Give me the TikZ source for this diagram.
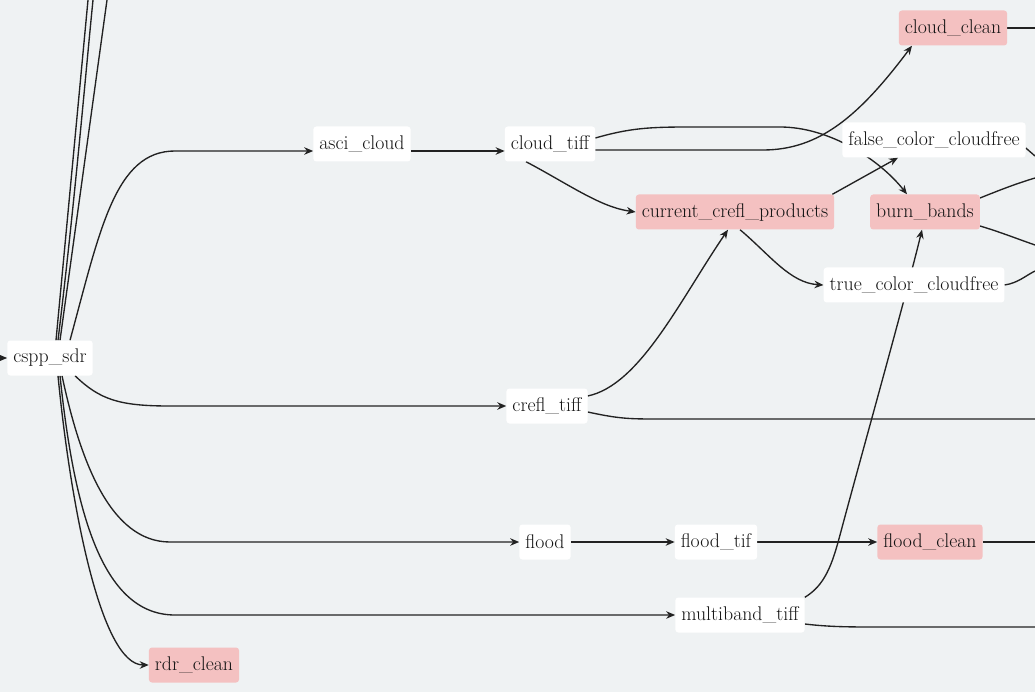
\documentclass[tikz,border=0pt]{standalone}
\usepackage{fontspec}
\usetikzlibrary{arrows.meta}
\pgfdeclarelayer{back}
\pgfdeclarelayer{edges}
\pgfsetlayers{back,edges,main}
\definecolor{bgc}{HTML}{EFF2F3}
\definecolor{pinkc}{HTML}{F4C1C1}
\definecolor{edgec}{HTML}{222222}
\definecolor{txtc}{HTML}{141414}
\tikzset{
 nd/.style={rounded corners=3pt, fill=white, text=txtc, minimum height=35pt, inner xsep=6pt, font=\fontsize{19.8}{22}\selectfont},
 pk/.style={nd, fill=pinkc},
 ed/.style={draw=edgec, line width=1.35pt, -{Stealth[length=9pt,width=7.5pt]}},
 ln/.style={draw=edgec, line width=1.35pt},
}
\begin{document}
\begin{tikzpicture}[x=1pt,y=-1pt]
\begin{pgfonlayer}{back}
\fill[bgc] (0,0) rectangle (1035,692);
\end{pgfonlayer}
\useasboundingbox (0,0) rectangle (1035,692);
% nodes
\node[nd] (cspp) at (50,358) {cspp\_sdr};
\node[nd] (asci) at (362,144) {asci\_cloud};
\node[nd] (ctiff) at (550,144) {cloud\_tiff};
\node[pk] (cclean) at (953,28) {cloud\_clean};
\node[nd] (fcc) at (934,140) {false\_color\_cloudfree};
\node[pk] (ccp) at (735,212) {current\_crefl\_products};
\node[pk] (burn) at (925,212) {burn\_bands};
\node[nd] (tcc) at (914,285) {true\_color\_cloudfree};
\node[nd] (crefl) at (547,406) {crefl\_tiff};
\node[nd] (flood) at (545,542) {flood};
\node[nd] (ftif) at (716,542) {flood\_tif};
\node[pk] (fclean) at (930,542) {flood\_clean};
\node[nd] (multi) at (740,615) {multiband\_tiff};
\node[pk] (rdr) at (194,665) {rdr\_clean};
% free ends
\coordinate (in) at (0,358);
\coordinate (t1) at (88,0);
\coordinate (t2) at (93,0);
\coordinate (t3) at (107,0);
\coordinate (r1) at (1035,28);
\coordinate (r2) at (1035,156);
\coordinate (r3) at (1035,178);
\coordinate (r4) at (1035,245);
\coordinate (r5) at (1035,271);
\coordinate (r6) at (1035,419);
\coordinate (r7) at (1035,542);
\coordinate (r8) at (1035,627);
\begin{pgfonlayer}{edges}
\draw[ed] (in) -- (cspp.west);
\draw[ln] ([xshift=6pt]cspp.north) -- (t1);
\draw[ln] ([xshift=8pt]cspp.north) .. controls (75,200) and (85,80) .. (t2);
\draw[ln] ([xshift=10pt]cspp.north) -- (t3);
\draw[ed] ([xshift=20pt]cspp.north) .. controls (100,230) and (115,151) .. (175,151) -- ([yshift=-7pt]asci.west);
\draw[ed] ([yshift=-7pt]asci.east) -- ([yshift=-7pt]ctiff.west);
\draw[ed] ([yshift=-6pt]ctiff.east) -- (763,150) .. controls (820,150) and (860,115) .. ([xshift=-41pt]cclean.south);
\draw[ed] ([yshift=6pt]ctiff.east) .. controls (630,128) and (650,127) .. (690,127) -- (780,127) .. controls (830,127) and (880,160) .. ([xshift=-18pt]burn.north);
\draw[ed] ([xshift=-24pt]ctiff.south) .. controls (570,185) and (600,207) .. (ccp.west);
\draw[ed] ([xshift=-2pt]ccp.north east) -- ([xshift=-36pt]fcc.south);
\draw[ed] ([xshift=5pt]ccp.south) .. controls (770,255) and (790,283) .. (tcc.west);
\draw[ed] ([yshift=10pt]crefl.east) .. controls (640,385) and (680,300) .. ([xshift=-7pt]ccp.south);
\draw[ed] (multi.north east) .. controls (825,585) and (832,565) .. (840,535) .. controls (860,460) and (905,300) .. ([xshift=-3pt]burn.south);
\draw[ln] (cclean.east) -- (r1);
\draw[ln] ([yshift=-8pt]fcc.east) -- (r2);
\draw[ln] ([yshift=14pt]burn.east) .. controls (1000,190) and (1015,184) .. (r3);
\draw[ln] ([yshift=-14pt]burn.east) .. controls (1000,232) and (1015,238) .. (r4);
\draw[ln] (tcc.east) .. controls (1018,283) and (1025,276) .. (r5);
\draw[ln] ([yshift=-6pt]crefl.east) .. controls (620,419) and (630,419) .. (660,419) -- (r6);
\draw[ln] (fclean.east) -- (r7);
\draw[ln] ([yshift=-9pt]multi.east) .. controls (830,627) and (850,627) .. (880,627) -- (r8);
\draw[ed] ([xshift=25pt]cspp.south) .. controls (100,400) and (120,406) .. (170,406) -- (crefl.west);
\draw[ed] ([xshift=12pt]cspp.south) .. controls (80,460) and (110,542) .. (170,542) -- (flood.west);
\draw[ed] ([xshift=10pt]cspp.south) .. controls (75,520) and (105,615) .. (175,615) -- (multi.west);
\draw[ed] ([xshift=8pt]cspp.south) .. controls (70,500) and (100,665) .. (rdr.west);
\draw[ed] (flood.east) -- (ftif.west);
\draw[ed] (ftif.east) -- (fclean.west);
\end{pgfonlayer}
\end{tikzpicture}
\end{document}
